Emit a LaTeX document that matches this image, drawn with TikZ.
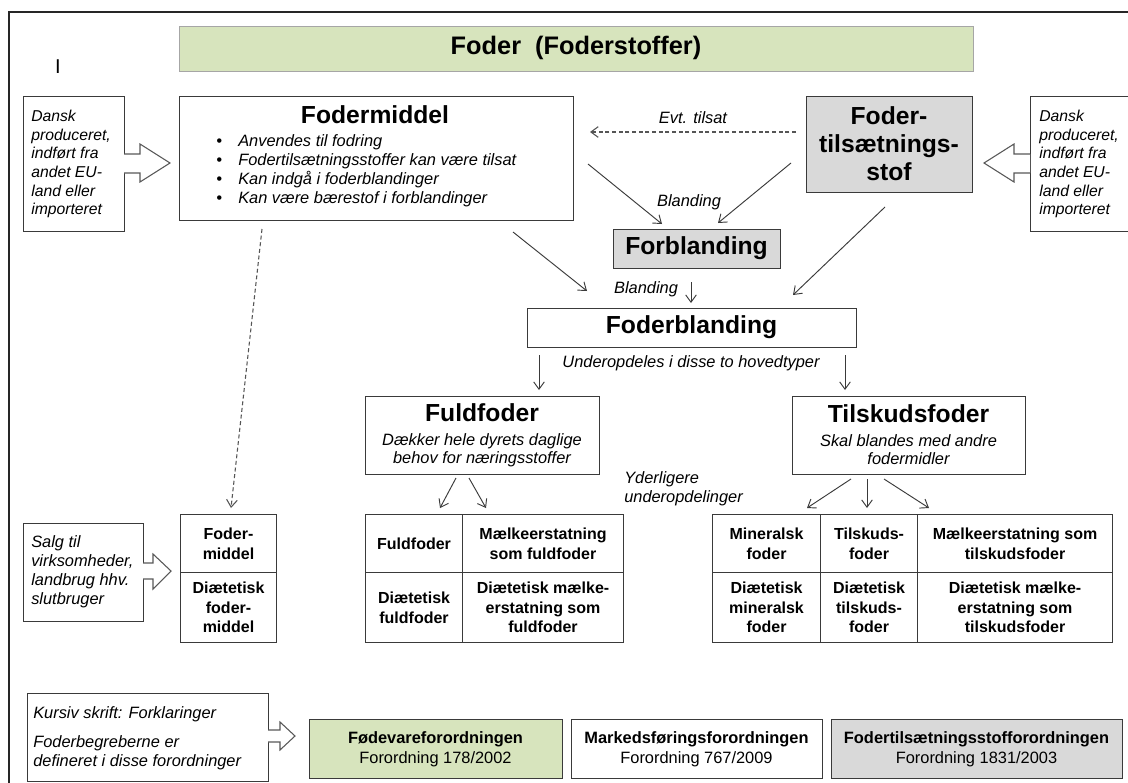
\documentclass[tikz,border=0pt]{standalone}
\usepackage{fontspec}
\setmainfont{Liberation Sans}
\usetikzlibrary{arrows.meta}
\definecolor{fgreen}{HTML}{D7E4BD}
\definecolor{fgray}{HTML}{D9D9D9}
\definecolor{lnc}{HTML}{3A3A3A}
\definecolor{dgc}{HTML}{555555}
\definecolor{tbord}{HTML}{A6A6A6}
\newcommand{\fzTitle}{\fontsize{19}{22}\selectfont\bfseries}
\newcommand{\fzHead}{\fontsize{18.5}{21}\selectfont\bfseries}
\newcommand{\fzItal}{\fontsize{12.3}{14.2}\selectfont\itshape}
\newcommand{\fzSub}{\fontsize{12.3}{13.5}\selectfont\itshape}
\newcommand{\fzDansk}{\fontsize{11.8}{14}\selectfont\itshape}
\newcommand{\fzGrid}{\fontsize{12}{14.8}\selectfont\bfseries}
\newcommand{\fzLaw}{\fontsize{12.3}{15}\selectfont}
\newcommand{\fzBul}{\makebox[16.5pt][l]{\textbullet}}
\begin{document}
\begin{tikzpicture}[x=0.75pt,y=-0.75pt,
  bx/.style 2 args={draw=lnc, line width=0.8pt, minimum width=#1*0.75pt, minimum height=#2*0.75pt, anchor=north west, inner sep=0pt},
  cell/.style 2 args={bx={#1}{#2}, align=center, font=\fzGrid},
  conn/.style={draw=lnc, line width=0.7pt, -{Straight Barb[length=5.5pt,width=8pt]}},
  dconn/.style={conn, draw=dgc, line width=0.8pt, dash pattern=on 3pt off 2pt},
  blockarrow/.style={draw=lnc!85, line width=0.8pt, fill=white, line join=miter},
  lbl/.style={inner sep=0pt, font=\fzItal},
  txt/.style={inner sep=0pt},
]
\useasboundingbox (0,0) rectangle (1128,782);
\clip (0,0) rectangle (1128,782);
\fill[white] (0,0) rectangle (1128,782);

% outer frame
\draw[line width=1.2pt, draw=black!85] (9,790) -- (9,12) -- (1140,12);

% stray mark
\node[txt, font=\fontsize{15}{15}\selectfont] (cur) at (58,67) {I};

% title
\node[bx={794}{45}, fill=fgreen, draw=tbord] (title) at (179,26) {};
\node[txt, font=\fzTitle] (titletxt) at (576,48) {Foder\ \ (Foderstoffer)};

% left Dansk box
\node[bx={101}{135}] (dl) at (23,96) {};
\node[txt, anchor=west, align=left, font=\fzDansk] (dltxt) at (31,164) {Dansk\\produceret,\\indført fra\\andet EU-\\land eller\\importeret};
\draw[blockarrow] (124,154) -- (140,154) -- (140,144) -- (170,163) -- (140,182) -- (140,173) -- (124,173);

% Fodermiddel
\node[bx={394}{124}] (fm) at (179,96) {};
\node[txt, font=\fzHead] (fmhead) at (375,115) {Fodermiddel};
\node[txt, anchor=west, align=left, font=\fontsize{12.3}{14.25}\selectfont\itshape] (fmlist) at (216,170.5)
  {\fzBul Anvendes til fodring\\\fzBul Fodertilsætningsstoffer kan være tilsat\\\fzBul Kan indgå i foderblandinger\\\fzBul Kan være bærestof i forblandinger};

% Foder-tilsætningsstof
\node[bx={166}{96}, fill=fgray] (ft) at (806,96) {};
\node[txt, align=center, font=\fontsize{18.5}{21}\selectfont\bfseries] (fttxt) at (889,143.5) {Foder-\\tilsætnings-\\stof};

% right Dansk box
\node[bx={120}{135}] (dr) at (1030,96) {};
\node[txt, anchor=west, align=left, font=\fzDansk] (drtxt) at (1039,164) {Dansk\\produceret,\\indført fra\\andet EU-\\land eller\\importeret};
\draw[blockarrow] (1030,154) -- (1014,154) -- (1014,144) -- (984,163) -- (1014,182) -- (1014,173) -- (1030,173);

% Evt. tilsat
\coordinate (evs) at (796,132);
\coordinate (eve) at (590,132);
\draw[dconn] (evs) -- (eve);
\node[lbl] (evtxt) at (693,118) {Evt. tilsat};

% Forblanding
\node[bx={167}{39}, fill=fgray] (fo) at (613,229) {};
\node[txt, font=\fzHead] (fotxt) at (696.5,248.5) {Forblanding};
\coordinate (b1s) at (588,164); \coordinate (b1e) at (662,224);
\coordinate (b2s) at (791,163); \coordinate (b2e) at (718,223);
\draw[conn] (b1s) -- (b1e);
\draw[conn] (b2s) -- (b2e);
\node[lbl] (bl1) at (689,202) {Blanding};

% to Foderblanding
\coordinate (c1s) at (513,232); \coordinate (c1e) at (587,291);
\coordinate (c2s) at (885,207); \coordinate (c2e) at (793,295);
\coordinate (c3s) at (691,282); \coordinate (c3e) at (691,303);
\draw[conn] (c1s) -- (c1e);
\draw[conn] (c2s) -- (c2e);
\draw[conn] (c3s) -- (c3e);
\node[lbl] (bl2) at (646,289) {Blanding};

% Foderblanding
\node[bx={329}{39}] (fb) at (527,308) {};
\node[txt, font=\fzHead] (fbtxt) at (691.5,327.5) {Foderblanding};
\node[lbl] (under) at (691,363) {Underopdeles i disse to hovedtyper};
\coordinate (d1s) at (539,355); \coordinate (d1e) at (539,390);
\coordinate (d2s) at (845,355); \coordinate (d2e) at (845,390);
\draw[conn] (d1s) -- (d1e);
\draw[conn] (d2s) -- (d2e);

% Fuldfoder
\node[bx={234}{78}] (ff) at (365,396) {};
\node[txt, font=\fzHead] (ffhead) at (482,413) {Fuldfoder};
\node[txt, align=center, font=\fzSub] (ffsub) at (482,450.5) {Dækker hele dyrets daglige\\behov for næringsstoffer};

% Tilskudsfoder
\node[bx={233}{78}] (tf) at (792,396) {};
\node[txt, font=\fzHead] (tfhead) at (908.5,414) {Tilskudsfoder};
\node[txt, align=center, font=\fzSub] (tfsub) at (908.5,449.5) {Skal blandes med andre\\fodermidler};

\node[txt, anchor=west, align=left, font=\fontsize{12.3}{14.25}\selectfont\itshape] (yder) at (624,489) {Yderligere\\underopdelinger};

% arrows to grids
\coordinate (e1s) at (456,478); \coordinate (e1e) at (440,508);
\coordinate (e2s) at (469,478); \coordinate (e2e) at (486,508);
\draw[conn] (e1s) -- (e1e);
\draw[conn] (e2s) -- (e2e);
\coordinate (f1s) at (851,479); \coordinate (f1e) at (807,508);
\coordinate (f2s) at (867,479); \coordinate (f2e) at (867,508);
\coordinate (f3s) at (884,479); \coordinate (f3e) at (929,508);
\draw[conn] (f1s) -- (f1e);
\draw[conn] (f2s) -- (f2e);
\draw[conn] (f3s) -- (f3e);

% Fuldfoder grid
\node[cell={97}{58}] (g11) at (365,514) {Fuldfoder};
\node[cell={161}{58}] (g12) at (462,514) {Mælkeerstatning\\som fuldfoder};
\node[cell={97}{70}] (g21) at (365,572) {Diætetisk\\fuldfoder};
\node[cell={161}{70}] (g22) at (462,572) {Diætetisk mælke-\\erstatning som\\fuldfoder};

% Tilskudsfoder grid
\node[cell={108}{58}] (t11) at (712,514) {Mineralsk\\foder};
\node[cell={97}{58}] (t12) at (820,514) {Tilskuds-\\foder};
\node[cell={195}{58}] (t13) at (917,514) {Mælkeerstatning som\\tilskudsfoder};
\node[cell={108}{70}] (t21) at (712,572) {Diætetisk\\mineralsk\\foder};
\node[cell={97}{70}] (t22) at (820,572) {Diætetisk\\tilskuds-\\foder};
\node[cell={195}{70}] (t23) at (917,572) {Diætetisk mælke-\\erstatning som\\tilskudsfoder};

% Fodermiddel grid
\node[cell={96}{58}] (m1) at (180,514) {Foder-\\middel};
\node[cell={96}{70}] (m2) at (180,572) {Diætetisk\\foder-\\middel};
\coordinate (ms) at (262,229);
\coordinate (me) at (231,508);
\draw[dconn] (ms) -- (me);

% Salg box
\node[bx={120}{98}] (salg) at (23,523) {};
\node[txt, anchor=west, align=left, font=\fontsize{12.3}{14.2}\selectfont\itshape] (salgtxt) at (31,572) {Salg til\\virksomheder,\\landbrug hhv.\\slutbruger};
\draw[blockarrow] (143,563) -- (153,563) -- (153,554) -- (171,571) -- (153,589) -- (153,579) -- (143,579);

% Legend
\node[bx={241}{88}] (leg) at (27,693) {};
\node[txt, anchor=west, font=\fzItal] (leg1) at (33,714) {Kursiv skrift: Forklaringer};
\node[txt, anchor=west, align=left, font=\fontsize{12.3}{14.2}\selectfont\itshape] (leg2) at (33,753) {Foderbegreberne er\\defineret i disse forordninger};
\draw[blockarrow] (268,730) -- (280,730) -- (280,722) -- (295,736) -- (280,750) -- (280,742) -- (268,742);

% law boxes
\node[bx={253}{59}, fill=fgreen] (law1) at (309,719) {};
\node[txt, align=center, font=\fzLaw] (law1t) at (435.5,749.5) {\textbf{Fødevareforordningen}\\Forordning 178/2002};
\node[bx={251}{59}] (law2) at (571,719) {};
\node[txt, align=center, font=\fzLaw] (law2t) at (696.5,749.5) {\textbf{Markedsføringsforordningen}\\Forordning 767/2009};
\node[bx={291}{59}, fill=fgray] (law3) at (831,719) {};
\node[txt, align=center, font=\fzLaw] (law3t) at (976.5,749.5) {\textbf{Fodertilsætningsstofforordningen}\\Forordning 1831/2003};
\end{tikzpicture}
\end{document}
